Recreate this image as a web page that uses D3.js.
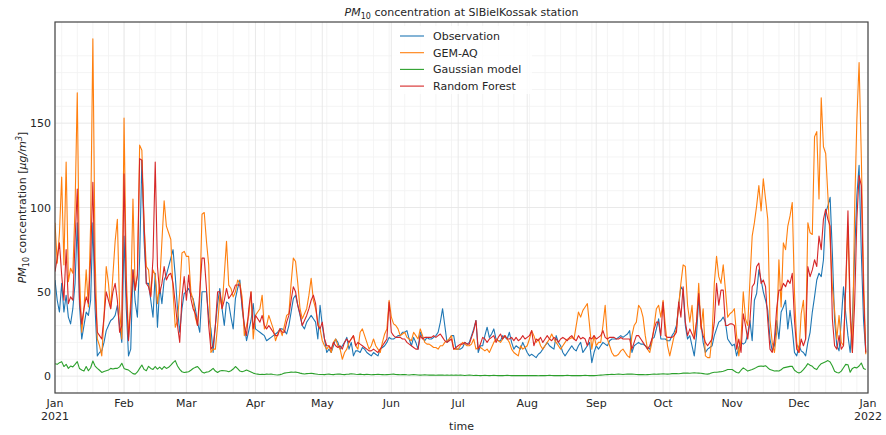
<!DOCTYPE html>
<meta charset="UTF-8">

<!-- Load d3.js -->
<script src="https://d3js.org/d3.v7.min.js"></script>

<div id="my_dataviz"></div>

<style>
body { margin: 0; background: #fff; }
text { font-family: "DejaVu Sans", sans-serif; fill: #262626; }
</style>

<script>

// daily PM10 values for 2021, one inner array per month (Jan..Dec)
var observation = [
  [57,45,38,55,38,48,35,31,40,55,91,42,22,30,38,36,45,91,40,12,14,15,20,27,30,33,34,36,42,30,20],
  [83,40,12,16,63,44,35,70,128,80,55,55,45,35,61,29,53,43,57,60,65,70,75,59,40,26,40,49],
  [50,52,48,46,40,32,26,50,50,50,35,28,14,30,43,52,40,30,44,43,35,28,46,52,57,40,30,21,27,33,43],
  [28,27,26,25,24,21,22,23,24,25,26,28,28,27,25,30,38,46,48,42,36,30,28,32,34,36,34,32,22,42],
  [30,22,14,16,14,18,22,20,16,18,20,23,16,20,12,15,15,14,17,16,14,13,12,14,13,12,16,17,18,20,23],
  [22,22,23,24,24,26,26,27,22,18,23,20,16,26,23,21,23,22,22,23,24,26,32,40,30,20,22,24,24,16],
  [16,16,17,20,19,20,24,28,33,14,18,18,24,29,23,25,28,22,21,21,24,23,22,26,20,16,18,17,16,20,17],
  [14,12,13,12,11,13,14,16,18,20,18,17,16,24,20,18,14,12,14,16,18,16,15,18,20,14,16,18,20,8,14],
  [18,16,18,20,19,18,21,22,22,22,23,24,23,24,25,27,14,18,19,20,19,19,18,17,16,22,23,28,34,22],
  [22,22,21,21,24,26,30,42,53,51,30,22,24,18,12,24,47,32,20,14,16,17,18,24,28,32,33,35,32,22,20],
  [18,19,12,17,20,19,20,25,33,21,45,49,63,57,50,45,39,22,15,18,33,22,38,41,45,28,39,28,14,12],
  [18,15,14,12,20,26,38,47,57,61,59,69,97,101,106,73,33,18,15,33,53,37,24,14,33,73,107,125,73,33,14]
];

var gemAq = [
  [91,67,85,118,66,127,56,64,61,100,168,60,26,40,63,41,90,200,70,22,18,12,35,65,55,40,60,80,93,40,22],
  [153,60,23,45,105,51,60,137,134,90,65,63,48,63,60,43,55,80,104,89,85,81,50,29,33,50,73,74],
  [71,71,50,45,35,30,45,96,97,80,66,14,16,16,30,48,40,60,80,54,52,47,50,57,55,47,24,30,36,50,22],
  [36,38,40,48,28,30,36,32,28,21,25,28,24,30,36,37,55,70,68,55,40,34,37,40,48,58,45,40,32,28],
  [21,18,16,18,14,20,22,18,16,10,14,16,20,22,24,18,16,26,28,24,20,16,18,22,18,16,14,20,25,28,45],
  [35,31,30,28,24,25,26,23,22,21,26,24,22,28,24,20,19,19,18,17,17,16,18,18,20,21,22,24,16,16],
  [16,18,20,19,18,18,19,22,16,17,17,16,15,16,14,17,20,22,21,20,22,24,22,20,16,14,13,12,18,16,17],
  [18,22,27,24,20,22,18,16,18,20,22,25,22,20,18,16,18,20,22,22,23,22,30,38,35,39,41,43,30,16,24],
  [18,20,20,30,42,22,18,14,12,12,13,15,16,14,12,11,24,30,32,42,40,35,24,16,14,20,30,40,42,35],
  [45,30,18,12,18,24,28,42,55,66,65,42,32,42,22,32,55,28,40,12,11,11,24,55,71,59,55,66,51,35,37],
  [38,40,24,12,22,50,34,30,57,83,91,101,113,98,117,105,93,33,20,14,26,69,41,79,75,89,95,103,49,20],
  [14,37,45,22,91,85,84,142,145,105,165,136,132,107,80,53,39,22,36,20,18,53,89,34,14,99,152,186,130,60,13]
];

var gaussian = [
  [7.4,7,8,8.6,5.7,7,4.6,6,5.5,7,8.6,4.5,3.6,3,5.7,3.2,5,9,6,4.6,3.5,2.2,2.8,3.2,3.6,4.6,4.2,4.6,4.6,5.5,7.6],
  [4.6,4,3.6,2.5,1.5,1.2,2.5,4.6,6.6,4,3.2,5.8,4.6,4,5.7,4.2,5.3,4,5.7,4.6,5.2,6.5,8,9.2,6,4,2.6,2.2],
  [2.4,2.6,3.5,4.5,5.2,5.7,4.2,2.5,1.8,2.4,2.6,3.5,4.6,3,2.2,3,3.3,3.2,3,2.6,3.2,4.2,5.7,4.5,3,2.6,3,3.6,3,2.4,1.8],
  [1.4,1.2,1,1.1,1,1.2,1.1,1.3,1,0.8,0.7,0.9,1.3,1.8,2,2.2,2.4,2.3,2.4,2.2,1.8,1.5,1.3,1.5,1.6,1.7,1.5,1.3,1.1,1],
  [1.0,0.9,1.1,1.2,1.0,0.9,1.1,1.3,1.2,1.0,0.9,1.1,1.2,1.4,1.3,1.1,1.0,1.2,1.0,0.9,1.1,1.0,0.8,0.9,1.0,1.1,1.0,0.9,0.8,0.9,1.0],
  [1.1,1.2,1.0,0.9,0.8,0.9,1.0,0.8,0.7,0.8,0.9,0.8,0.7,0.6,0.7,0.8,0.7,0.6,0.7,0.6,0.5,0.6,0.7,0.6,0.5,0.6,0.5,0.6,0.5,0.6],
  [0.5,0.6,0.5,0.4,0.5,0.6,0.5,0.4,0.5,0.4,0.3,0.4,0.5,0.4,0.3,0.4,0.5,0.4,0.3,0.4,0.3,0.4,0.5,0.4,0.3,0.4,0.3,0.4,0.3,0.3,0.4],
  [0.3,0.4,0.3,0.4,0.3,0.2,0.3,0.4,0.3,0.4,0.5,0.4,0.3,0.4,0.3,0.4,0.3,0.4,0.5,0.4,0.3,0.4,0.3,0.4,0.3,0.4,0.5,0.4,0.3,0.4,0.3],
  [0.4,0.5,0.6,0.7,0.8,0.9,1.0,1.1,1.0,1.1,1.2,1.1,1.0,1.1,1.2,1.3,1.2,1.1,1.0,0.9,1.0,0.9,0.8,0.9,1.0,1.1,1.2,1.1,1.2,1.3],
  [1.4,1.3,1.2,1.3,1.5,1.6,1.5,1.4,1.6,1.8,1.9,1.8,1.7,1.9,2.0,1.9,1.8,1.7,1.5,1.3,1.2,1.5,2.0,2.3,2.3,2.5,2.6,2.9,3.4,3.9,3.9],
  [3.9,3.0,2.2,1.9,3.5,4.9,4.0,3.0,3.5,3.9,4.5,5.2,5.8,6.0,5.8,6.2,5.0,3.9,3.5,3.0,3.2,3.0,3.8,4.9,5.2,5.5,5.8,5.8,3.5,2.5],
  [1.9,2.5,3.9,5.5,7.4,6.5,5.8,4.5,3.9,6,7.4,8,8.6,9.2,8.4,6,2.9,2.2,1.9,3,5,7,6.8,2.3,4.6,5.2,4.9,6,7.8,4.5,3.9]
];

var randomForest = [
  [62,70,79,60,45,75,43,47,45,80,111,45,31,40,47,43,70,115,50,26,24,22,35,50,45,40,50,55,45,26,30],
  [120,50,21,40,63,51,60,129,128,90,55,53,47,70,127,65,49,55,65,57,60,61,55,43,30,20,47,59],
  [45,60,46,40,37,30,50,70,70,52,30,16,18,30,50,50,40,45,52,46,48,50,54,54,54,43,30,24,40,50,28],
  [36,34,32,36,30,28,30,28,26,24,24,28,26,26,32,36,45,53,50,42,37,30,33,36,40,45,48,43,30,28],
  [32,22,18,18,16,20,18,17,18,16,20,22,20,22,24,18,20,19,18,17,16,15,15,16,15,14,16,18,20,22,44],
  [26,24,23,23,23,22,22,20,19,18,17,16,16,24,22,23,23,23,23,24,23,24,25,23,21,20,21,22,16,17],
  [18,19,19,20,19,19,23,27,33,16,19,23,22,20,22,23,24,20,23,25,22,24,22,22,23,21,23,21,22,24,22],
  [23,24,27,18,22,21,23,20,22,24,22,21,23,22,20,22,23,22,21,23,24,22,21,24,22,23,22,18,23,22,24],
  [22,23,24,27,23,22,23,23,23,22,22,23,22,22,22,22,16,20,24,24,22,20,18,16,18,22,28,32,32,24],
  [44,24,23,23,23,24,26,44,35,53,32,24,28,25,22,32,49,30,24,20,18,20,22,32,55,42,51,51,30,30,31],
  [31,30,16,22,14,37,30,22,33,53,55,65,67,55,57,53,33,16,14,22,40,51,51,55,53,57,55,61,33,16],
  [14,22,18,22,65,59,63,69,65,83,75,93,99,93,89,34,18,16,24,16,18,53,98,41,14,43,93,119,113,49,14]
];

var seriesNames = ["Observation", "GEM-AQ", "Gaussian model", "Random Forest"];
var seriesColors = ["#1f77b4", "#ff7f0e", "#2ca02c", "#d62728"];
var monthNames = ["Jan", "Feb", "Mar", "Apr", "May", "Jun", "Jul", "Aug", "Sep", "Oct", "Nov", "Dec"];
var yTicks = [0, 50, 100, 150];

// set the dimensions and margins of the graph
var width = 886
var height = 435
var margin = {top: 22, right: 18, bottom: 42, left: 55}

var svg = d3.select("#my_dataviz")
    .append("svg")
        .attr("width", width)
        .attr("height", height)

// flatten monthly arrays into dated points
function toDaily(months) {
    var out = []
    months.forEach(function(vals, m) {
        vals.forEach(function(v, i) {
            out.push({date: new Date(2021, m, i + 1), value: v})
        })
    })
    return out
}
var series = [observation, gemAq, gaussian, randomForest].map(toDaily)

var start = new Date(2021, 0, 1), end = new Date(2022, 0, 1)

var x = d3.scaleTime()
    .domain([start, end])
    .range([margin.left, width - margin.right])

var y = d3.scaleLinear()
    .domain([-10, 210])
    .range([height - margin.bottom, margin.top])

var x0 = margin.left, x1 = width - margin.right
var y0 = height - margin.bottom, y1 = margin.top

// grid: minor first, then major
var grid = svg.append("g")

grid.selectAll(".xminor")
    .data(d3.timeMonday.range(start, end))
    .enter().append("line")
        .attr("x1", d => x(d)).attr("x2", d => x(d))
        .attr("y1", y1).attr("y2", y0)
        .attr("stroke", "#f1f1f1").attr("stroke-width", 0.8)

grid.selectAll(".yminor")
    .data(d3.range(0, 210, 10).filter(v => v % 50 != 0))
    .enter().append("line")
        .attr("x1", x0).attr("x2", x1)
        .attr("y1", d => y(d)).attr("y2", d => y(d))
        .attr("stroke", "#f1f1f1").attr("stroke-width", 0.8)

var months = d3.timeMonth.range(start, d3.timeDay.offset(end, 1))

grid.selectAll(".xmajor")
    .data(months)
    .enter().append("line")
        .attr("x1", d => x(d)).attr("x2", d => x(d))
        .attr("y1", y1).attr("y2", y0)
        .attr("stroke", "#e6e6e6").attr("stroke-width", 0.9)

grid.selectAll(".ymajor")
    .data(yTicks)
    .enter().append("line")
        .attr("x1", x0).attr("x2", x1)
        .attr("y1", d => y(d)).attr("y2", d => y(d))
        .attr("stroke", "#e6e6e6").attr("stroke-width", 0.9)

// lines
var line = d3.line()
    .x(d => x(d.date))
    .y(d => y(d.value))

svg.append("defs").append("clipPath").attr("id", "clip")
    .append("rect").attr("x", x0).attr("y", y1).attr("width", x1 - x0).attr("height", y0 - y1)

svg.append("g").attr("clip-path", "url(#clip)")
    .selectAll("path")
    .data(series)
    .enter().append("path")
        .attr("d", line)
        .attr("fill", "none")
        .attr("stroke", (d, i) => seriesColors[i])
        .attr("stroke-width", 1.1)
        .attr("stroke-linejoin", "round")

// frame
svg.append("rect")
    .attr("x", x0).attr("y", y1)
    .attr("width", x1 - x0).attr("height", y0 - y1)
    .attr("fill", "none")
    .attr("stroke", "#444")
    .attr("stroke-width", 1.2)

// x tick labels
var xl = svg.append("g")
    .style("font-size", "11px")
    .attr("text-anchor", "middle")
months.forEach(function(d) {
    var t = xl.append("text").attr("x", x(d)).attr("y", y0 + 14)
    t.text(monthNames[d.getMonth()])
    if (d.getMonth() == 0) {
        xl.append("text").attr("x", x(d)).attr("y", y0 + 27).text(d.getFullYear())
    }
})

// y tick labels
svg.append("g")
    .style("font-size", "11px")
    .attr("text-anchor", "end")
    .selectAll("text")
    .data(yTicks)
    .enter().append("text")
        .attr("x", x0 - 4)
        .attr("y", d => y(d) + 4)
        .text(d => d)

// axis titles
svg.append("text")
    .attr("x", (x0 + x1) / 2).attr("y", height - 5)
    .attr("text-anchor", "middle")
    .style("font-size", "11px")
    .text("time")

var yl = svg.append("text")
    .attr("transform", "translate(26," + ((y0 + y1) / 2) + ") rotate(-90)")
    .attr("text-anchor", "middle")
    .style("font-size", "11px")
yl.append("tspan").style("font-style", "italic").text("PM")
yl.append("tspan").attr("dy", 3).style("font-size", "8px").text("10")
yl.append("tspan").attr("dy", -3).text(" concentration [")
yl.append("tspan").style("font-style", "italic").text("μg/m")
yl.append("tspan").attr("dy", -4).style("font-size", "8px").style("font-style", "italic").text("3")
yl.append("tspan").attr("dy", 4).text("]")

var title = svg.append("text")
    .attr("x", (x0 + x1) / 2).attr("y", 16)
    .attr("text-anchor", "middle")
    .style("font-size", "11px")
title.append("tspan").style("font-style", "italic").text("PM")
title.append("tspan").attr("dy", 3).style("font-size", "8px").text("10")
title.append("tspan").attr("dy", -3).text(" concentration at SlBielKossak station")

// legend
var legend = svg.append("g").attr("transform", "translate(398,28)")
legend.append("rect")
    .attr("x", -6).attr("y", -2)
    .attr("width", 140).attr("height", 68)
    .attr("fill", "white").attr("fill-opacity", 0.8)

seriesNames.forEach(function(name, i) {
    var g = legend.append("g").attr("transform", "translate(0," + (i * 16.7 + 8) + ")")
    g.append("line")
        .attr("x1", 2).attr("x2", 26)
        .attr("stroke", seriesColors[i]).attr("stroke-width", 1.1)
    g.append("text")
        .attr("x", 35).attr("y", 4)
        .style("font-size", "11px")
        .text(name)
})

</script>
